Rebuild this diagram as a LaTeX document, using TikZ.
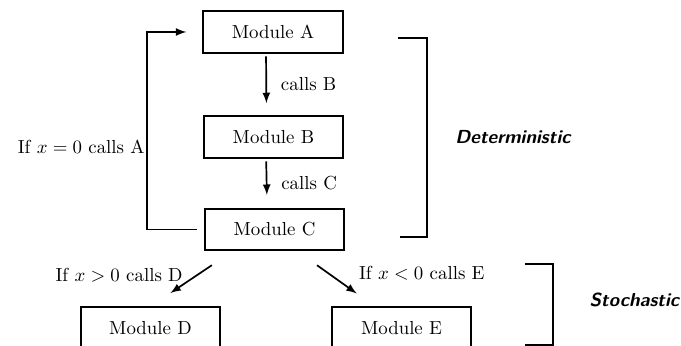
\documentclass[tikz,border=0pt]{standalone}
\usepackage{amsmath}
\usepackage{tikz}
\usetikzlibrary{calc}

\begin{document}
\begin{tikzpicture}[x=0.53pt, y=-0.53pt, >=latex, line width=0.9pt,
		module/.style={draw, rectangle, minimum width=74pt, minimum height=22pt},
		group/.style={font=\sffamily\bfseries\itshape}]
				\clip (0,0) rectangle (681,346);
				\node[module] (A) at (273,32) {Module A};
				\node[module] (B) at (273.5,137) {Module B};
				\node[module] (C) at (274.5,229.5) {Module C};
				\node[module] (D) at (150.5,328) {Module D};
				\node[module] (E) at (401.5,328) {Module E};
				\draw[->, shorten <=1.5pt, shorten >=6.5pt] ([xshift=-3.7pt]A.south) -- ([xshift=-3.7pt]B.north) node[midway, right=4pt] {calls B};
				\draw[->, shorten <=1.5pt, shorten >=6.9pt] ([xshift=-3.9pt]B.south) -- ([xshift=-3.9pt]C.north) node[midway, right=4pt] {calls C};
				\draw[->, shorten <=3.7pt, shorten >=8.5pt] (C.west) -- ++(-56.5,0) |- (A.west) node[pos=0.21, left=0pt, inner sep=1pt] {If $x = 0$ calls A};
				\draw[->, shorten <=13.4pt, shorten >=12.7pt] ($(C.south west)+(29,0)$) -- (D.north) node[midway, left=1pt, yshift=2pt] {If $x > 0$ calls D};
				\draw[->, shorten <=12.9pt, shorten >=11.8pt] ($(C.south east)+(-48,0)$) -- ($(E.north west)+(44,0)$) node[midway, right=8.5pt, yshift=3pt] {If $x < 0$ calls E};
				\draw (398,38) -| (427,237) -- (400,237);
				\node[group] (det) at (513,137) {Deterministic};
				\draw (525,264) -| (553,345) -- (525,345);
				\node[group, anchor=east, inner sep=0pt] (sto) at (680,300) {Stochastic};
			\end{tikzpicture}
\end{document}
